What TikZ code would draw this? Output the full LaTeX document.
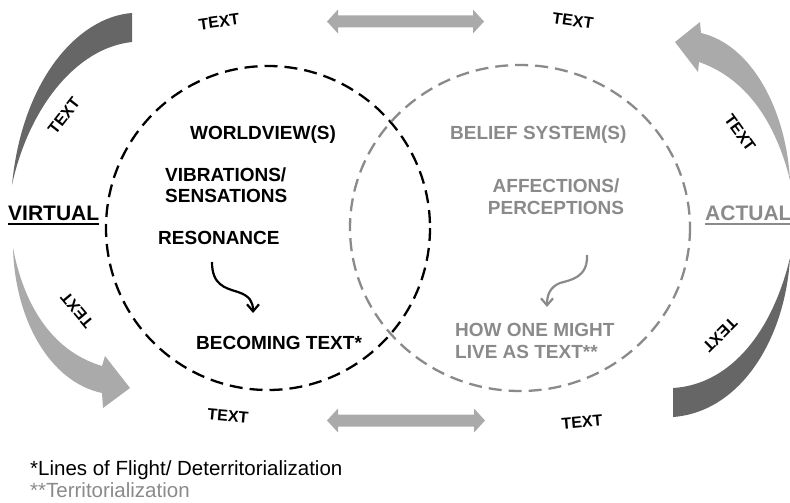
\documentclass[tikz,border=0pt]{standalone}
\usepackage{fontspec}
\setmainfont{Liberation Sans}
\usetikzlibrary{arrows.meta}
\definecolor{darkband}{HTML}{666666}
\definecolor{lightband}{HTML}{AAAAAA}
\definecolor{greytext}{HTML}{8A8A8A}
\begin{document}
\begin{tikzpicture}[x=1pt,y=-1pt,
  lbl/.style={font=\fontsize{19}{22}\selectfont\bfseries, inner sep=0pt},
  blackl/.style={lbl, text=black},
  greyl/.style={lbl, text=greytext},
  small/.style={font=\fontsize{16}{19}\selectfont\bfseries, inner sep=0pt},
  pole/.style={font=\fontsize{21}{25}\selectfont\bfseries, inner sep=0pt, anchor=base west},
  note/.style={font=\fontsize{20.5}{24}\selectfont, inner sep=0pt, anchor=base west},
  ring/.style={line width=2.3pt, dash pattern=on 13pt off 7pt},
  wiggle/.style={line width=2.2pt, -{Straight Barb[length=7pt,width=12pt,line width=2.2pt]}}
]
\path[use as bounding box] (0,0) rectangle (790,503);

% the two dashed circles
\draw[ring, black] (268,228) circle [radius=162];
\draw[ring, greytext] (520,228) circle [x radius=170, y radius=163];

% curved band arrows around the circles
\fill[darkband] (132,13) .. controls (78,17) and (22,80) .. (12,185)
  .. controls (28,110) and (75,48) .. (132,42) -- cycle;
\fill[lightband] (13,248) .. controls (25,310) and (55,352) .. (102,366)
  -- (105,356) -- (130,388) -- (103,408) -- (102,393)
  .. controls (50,382) and (15,320) .. (13,248) -- cycle;
\fill[lightband] (790,180) .. controls (775,120) and (745,78) .. (699,62)
  -- (698,72) -- (675,42) -- (700,22) -- (701,33)
  .. controls (752,45) and (786,110) .. (790,180) -- cycle;
\fill[darkband] (673,417) .. controls (740,412) and (785,340) .. (790,258)
  .. controls (770,340) and (725,385) .. (673,388) -- cycle;

% horizontal double arrows
\fill[lightband] (327,21.5) -- (338,9.5) -- (338,15.5) -- (473,15.5) -- (473,9.5)
  -- (484,21.5) -- (473,33.5) -- (473,27.5) -- (338,27.5) -- (338,33.5) -- cycle;
\fill[lightband] (327,420.5) -- (338,408.5) -- (338,414.5) -- (474,414.5) -- (474,408.5)
  -- (485,420.5) -- (474,432.5) -- (474,426.5) -- (338,426.5) -- (338,432.5) -- cycle;

% TEXT labels along the arrows
\node[small, rotate=8] (t1) at (219,22) {TEXT};
\node[small, rotate=-8] (t2) at (573,21) {TEXT};
\node[small, rotate=-5] (t3) at (228,416) {TEXT};
\node[small, rotate=5] (t4) at (582,422) {TEXT};
\node[small, rotate=52] (t5) at (64,116) {TEXT};
\node[small, rotate=130] (t6) at (77,310) {TEXT};
\node[small, rotate=-54] (t7) at (740,133) {TEXT};
\node[small, rotate=-135] (t8) at (720,335) {TEXT};

% poles
\node[pole, text=black] (virt) at (8,220.5) {VIRTUAL};
\draw[line width=2pt, black] (virt.south west) ++(0,3) coordinate (vu1) -- (vu1 -| virt.east);
\node[pole, text=greytext] (act) at (705,220.5) {ACTUAL};
\draw[line width=2pt, greytext] (act.south west) ++(0,3) coordinate (au1) -- (au1 -| act.east);

% left circle contents
\node[blackl, anchor=base west] (wv) at (190,139.5) {WORLDVIEW(S)};
\node[blackl, anchor=base west] (vib) at (165,181.5) {VIBRATIONS/};
\node[blackl, anchor=base west] (sen) at (165,202.5) {SENSATIONS};
\node[blackl, anchor=base west] (res) at (158,244.5) {RESONANCE};
\node[blackl, anchor=base west] (bec) at (196,349.5) {BECOMING TEXT*};
\coordinate (la) at (212,262);
\coordinate (lb) at (253,313);
\draw[wiggle, black] (la) .. controls (212,285) and (225,288) .. (238,292)
  .. controls (250,296) and (253,302) .. (lb);

% right circle contents
\node[greyl, anchor=base west] (bel) at (450,139.5) {BELIEF SYSTEM(S)};
\node[greyl, anchor=base] (aff) at (556,192.5) {AFFECTIONS/};
\node[greyl, anchor=base] (per) at (556,214.5) {PERCEPTIONS};
\node[greyl, anchor=base west] (how) at (455,336.5) {HOW ONE MIGHT};
\node[greyl, anchor=base west] (liv) at (455,358.5) {LIVE AS TEXT**};
\coordinate (ra) at (587,255);
\coordinate (rb) at (547,307);
\draw[wiggle, greytext] (ra) .. controls (588,278) and (570,280) .. (560,283)
  .. controls (550,287) and (547,295) .. (rb);

% footnotes
\node[note, text=black] (n1) at (30,475) {*Lines of Flight/ Deterritorialization};
\node[note, text=greytext] (n2) at (30,497) {**Territorialization};
\end{tikzpicture}
\end{document}
